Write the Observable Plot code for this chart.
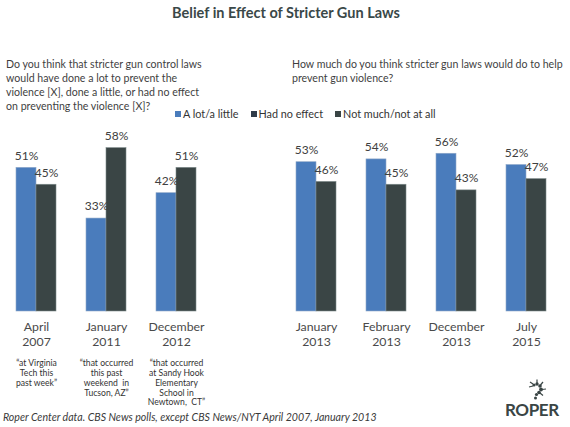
<!DOCTYPE html>
<html>
<head>
<meta charset="utf-8">
<script src="https://cdn.jsdelivr.net/npm/d3@7"></script>
<script src="https://cdn.jsdelivr.net/npm/@observablehq/plot@0.6"></script>
<style>
  html, body { margin: 0; padding: 0; background: #fff; }
  #wrap { position: relative; width: 570px; height: 427px; overflow: hidden; font-family: Lato, sans-serif; color: #404040; }
  .abs { position: absolute; white-space: nowrap; }
  #title { left: 0; width: 572px; top: 4px; text-align: center; font-weight: bold; font-size: 14.5px; color: #3a4848; }
  .sub { font-size: 10.6px; line-height: 14px; color: #3f3f3f; }
  #legend { top: 107px; left: 175px; font-size: 10.8px; color: #333; }
  #legend span.sw { display: inline-block; width: 6px; height: 6px; margin-right: 2px; vertical-align: 1px; }
  #legend span.it { margin-right: 12px; }
  #caption { left: 3px; top: 411px; font-style: italic; font-size: 10.6px; color: #3a3a3a; }
  #logo { left: 505px; top: 399px; font-weight: bold; font-size: 17px; color: #3a4545; letter-spacing: -0.4px; }
  #chart { left: 0; top: 120px; }
</style>
</head>
<body>
<div id="wrap">
  <div id="title" class="abs"></div>
  <div id="subL" class="abs sub" style="left:6px;top:57px;"></div>
  <div id="subR" class="abs sub" style="left:292px;top:57px;"></div>
  <div id="legend" class="abs"></div>
  <div id="chart" class="abs"></div>
  <div id="caption" class="abs"></div>
  <svg class="abs" style="left:522px;top:379px;" width="28" height="22" viewBox="0 0 28 22">
    <g fill="#3a4545">
      <circle cx="12" cy="6" r="1.6"/><circle cx="15" cy="5" r="1.7"/><circle cx="18" cy="7" r="1.8"/>
      <circle cx="19" cy="10.5" r="1.9"/><circle cx="17" cy="13.5" r="1.8"/><circle cx="14.5" cy="15.5" r="1.6"/>
      <circle cx="13.5" cy="19" r="1.5"/>
    </g>
    <g stroke="#3a4545" stroke-width="1.2">
      <line x1="11" y1="5" x2="8" y2="3"/><line x1="15" y1="4" x2="15" y2="0.5"/><line x1="18.5" y1="6" x2="21" y2="3"/>
      <line x1="20" y1="10.5" x2="24" y2="10"/><line x1="18" y1="14" x2="21" y2="16.5"/><line x1="11" y1="7" x2="7" y2="8"/>
    </g>
  </svg>
  <div id="logo" class="abs">ROPER</div>
</div>
<script>
// ---- data ----
const titleText = "Belief in Effect of Stricter Gun Laws";
const subtitleLeft = ["Do you think that stricter gun control laws", "would have done a lot to prevent the", "violence [X], done a little, or had no effect", "on preventing the violence [X]?"];
const subtitleRight = ["How much do you think stricter gun laws would do to help", "prevent gun violence?"];
const seriesNames = ["A lot/a little", "Had no effect", "Not much/not at all"];
const seriesColors = ["#4a7cbc", "#2f3b48", "#3a4545"];
const periods = ["April\n2007", "January\n2011", "December\n2012", "", "January\n2013", "February\n2013", "December\n2013", "July\n2015"];
const aLotALittle = [51, 33, 42, null, 53, 54, 56, 52];
const noEffectOrNotMuch = [45, 58, 51, null, 46, 45, 43, 47];
const quotes = ["“at Virginia\nTech this\npast week”", "“that occurred\nthis past\nweekend  in\nTucson, AZ”", "“that occurred\nat Sandy Hook\nElementary\nSchool in\nNewtown,  CT”", "", "", "", "", ""];
const captionText = "Roper Center data. CBS News polls, except CBS News/NYT April 2007, January 2013";

// ---- text blocks ----
document.getElementById("title").textContent = titleText;
document.getElementById("subL").innerHTML = subtitleLeft.join("<br>");
document.getElementById("subR").innerHTML = subtitleRight.join("<br>");
document.getElementById("caption").textContent = captionText;
document.getElementById("legend").innerHTML = seriesNames.map((s, i) =>
  `<span class="it"><span class="sw" style="background:${seriesColors[i]}"></span>${s}</span>`).join("");

// ---- chart ----
const rows = periods.map((p, i) => ({
  period: p, line1: p.split("\n")[0], line2: p.split("\n")[1],
  a: aLotALittle[i], b: noEffectOrNotMuch[i], q: quotes[i]
})).filter(d => d.a != null);

const chart = Plot.plot({
  width: 570,
  height: 300,
  marginTop: 22,
  marginBottom: 109,
  marginLeft: 0.5,
  marginRight: 9.5,
  style: {fontFamily: "Lato, sans-serif", color: "#404040", background: "transparent"},
  x: {domain: periods, paddingInner: 30 / 70, paddingOuter: 15 / 70, axis: null},
  y: {domain: [0, 60], axis: null},
  marks: [
    Plot.barY(rows, {x: "period", y: "a", fill: seriesColors[0], insetRight: 20, stroke: "#8fa8c8", strokeWidth: 0.6}),
    Plot.barY(rows, {x: "period", y: "b", fill: seriesColors[2], insetLeft: 20, stroke: "#7d8a8a", strokeWidth: 0.6}),
    Plot.text(rows, {x: "period", y: "a", text: d => d.a + "%", dx: -10, dy: -12, fontSize: 12, fill: "#404040"}),
    Plot.text(rows, {x: "period", y: "b", text: d => d.b + "%", dx: 10, dy: -12, fontSize: 12, fill: "#404040"}),
    Plot.text(rows, {x: "period", text: "line1", frameAnchor: "bottom", dy: 19, fontSize: 12.3, fill: "#4a4a4a"}),
    Plot.text(rows, {x: "period", text: "line2", frameAnchor: "bottom", dy: 34, fontSize: 12.3, fill: "#4a4a4a"}),
    Plot.text(rows, {x: "period", text: "q", frameAnchor: "bottom", lineAnchor: "top", dy: 47, fontSize: 8.6, lineHeight: 1.16, fill: "#333"})
  ]
});
document.getElementById("chart").appendChild(chart);
</script>
</body>
</html>
